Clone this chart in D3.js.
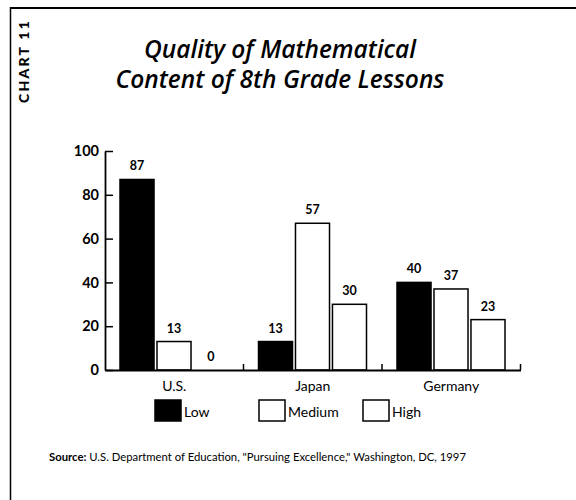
<!DOCTYPE html>
<html><head><meta charset="utf-8">
<script src="https://cdn.jsdelivr.net/npm/d3@7"></script>
<style>
body{margin:0;background:#fff;}
svg{display:block;font-family:Lato,"Open Sans",sans-serif;}
</style></head>
<body><svg id="c" width="576" height="500"></svg>
<script>
const titleLines = ["Quality of Mathematical", "Content of 8th Grade Lessons"];
const sideLabel = "CHART 11";
const categories = ["U.S.", "Japan", "Germany"];
const seriesNames = ["Low", "Medium", "High"];
const lowValues = [87, 13, 40];
const mediumValues = [13, 67, 37];
const highValues = [0, 30, 23];
const lowLabels = ["87", "13", "40"];
const mediumLabels = ["13", "57", "37"];
const highLabels = ["0", "30", "23"];
const yTicks = [0, 20, 40, 60, 80, 100];
const sourceBold = "Source:";
const sourceText = " U.S. Department of Education, \"Pursuing Excellence,\" Washington, DC, 1997";

const svg = d3.select("#c");
// frame
svg.append("line").attr("x1",10).attr("x2",576).attr("y1",8).attr("y2",8).attr("stroke","#000").attr("stroke-width",2);
svg.append("line").attr("x1",10.5).attr("x2",10.5).attr("y1",7).attr("y2",500).attr("stroke","#000").attr("stroke-width",1.5);

svg.append("text").attr("transform","translate(29,61) rotate(-90)")
  .attr("text-anchor","middle").attr("font-size",14).attr("font-weight",900)
  .attr("letter-spacing",2.2).text(sideLabel);

svg.selectAll("text.title").data(titleLines).join("text").attr("class","title")
  .attr("x",280).attr("y",(d,i)=>58+i*30).attr("text-anchor","middle")
  .attr("font-family","'Open Sans',sans-serif")
  .attr("font-size",24.5).attr("font-style","italic").attr("font-weight",600).text(d=>d);

const x0 = 105, x1 = 520.5, yTop = 151, yBot = 370;
const x = d3.scaleBand().domain(categories).range([x0,x1]).paddingInner(0).paddingOuter(0);
const xs = d3.scaleBand().domain(seriesNames).range([15, x.bandwidth()-15.5]).paddingInner(0.08);
const y = d3.scaleLinear().domain([0,100]).range([yBot,yTop]);

const data = categories.map((c,i)=>({cat:c, vals:[lowValues[i],mediumValues[i],highValues[i]], labs:[lowLabels[i],mediumLabels[i],highLabels[i]]}));
const fills = ["#000","#fff","#fff"];

const g = svg.append("g");
data.forEach(d=>{
  seriesNames.forEach((s,j)=>{
    const bx = x(d.cat)+xs(s);
    if (d.vals[j] > 0) {
      g.append("rect").attr("x",bx).attr("y",y(d.vals[j])).attr("width",xs.bandwidth())
        .attr("height",y(0)-y(d.vals[j])).attr("fill",fills[j]).attr("stroke","#000").attr("stroke-width",1.5);
    }
    g.append("text").attr("x",bx+xs.bandwidth()/2).attr("y",y(d.vals[j])-9)
      .attr("text-anchor","middle").attr("font-size",12.5).attr("font-weight",700).text(d.labs[j]);
  });
});

// y axis
const yAxis = d3.axisLeft(y).tickValues(yTicks).tickSize(-8).tickPadding(6).tickSizeOuter(0);
const ya = svg.append("g").attr("transform",`translate(${x0},0)`).call(yAxis);
ya.select(".domain").attr("stroke-width",1.8);
ya.selectAll(".tick line").attr("stroke-width",1.5);
ya.selectAll(".tick text").attr("font-size",14.5).attr("font-weight",700).attr("font-family","Lato,sans-serif").attr("fill","#000");

// x axis
const xAxis = d3.axisBottom(x).tickSize(0).tickPadding(9).tickSizeOuter(0);
const xa = svg.append("g").attr("transform",`translate(0,${yBot})`).call(xAxis);
xa.select(".domain").attr("stroke-width",2);
xa.selectAll(".tick text").attr("font-size",14).attr("font-family","Lato,sans-serif").attr("fill","#000").attr("dy","0.85em");
const bounds = categories.map(c=>x(c)).concat([x1]).slice(1);
svg.selectAll("line.sep").data(bounds).join("line").attr("class","sep")
  .attr("x1",d=>d).attr("x2",d=>d).attr("y1",yBot).attr("y2",yBot-6).attr("stroke","#000").attr("stroke-width",1.5);

// legend
const legX = [155, 259, 363];
seriesNames.forEach((s,i)=>{
  svg.append("rect").attr("x",legX[i]).attr("y",400).attr("width",26).attr("height",21)
    .attr("fill",fills[i]).attr("stroke","#000").attr("stroke-width",1.5);
  svg.append("text").attr("x",legX[i]+29).attr("y",417).attr("font-size",14).text(s);
});

// source
const st = svg.append("text").attr("x",49).attr("y",461).attr("font-size",11.3);
st.append("tspan").attr("font-weight",700).text(sourceBold);
st.append("tspan").text(sourceText);
</script></body></html>
